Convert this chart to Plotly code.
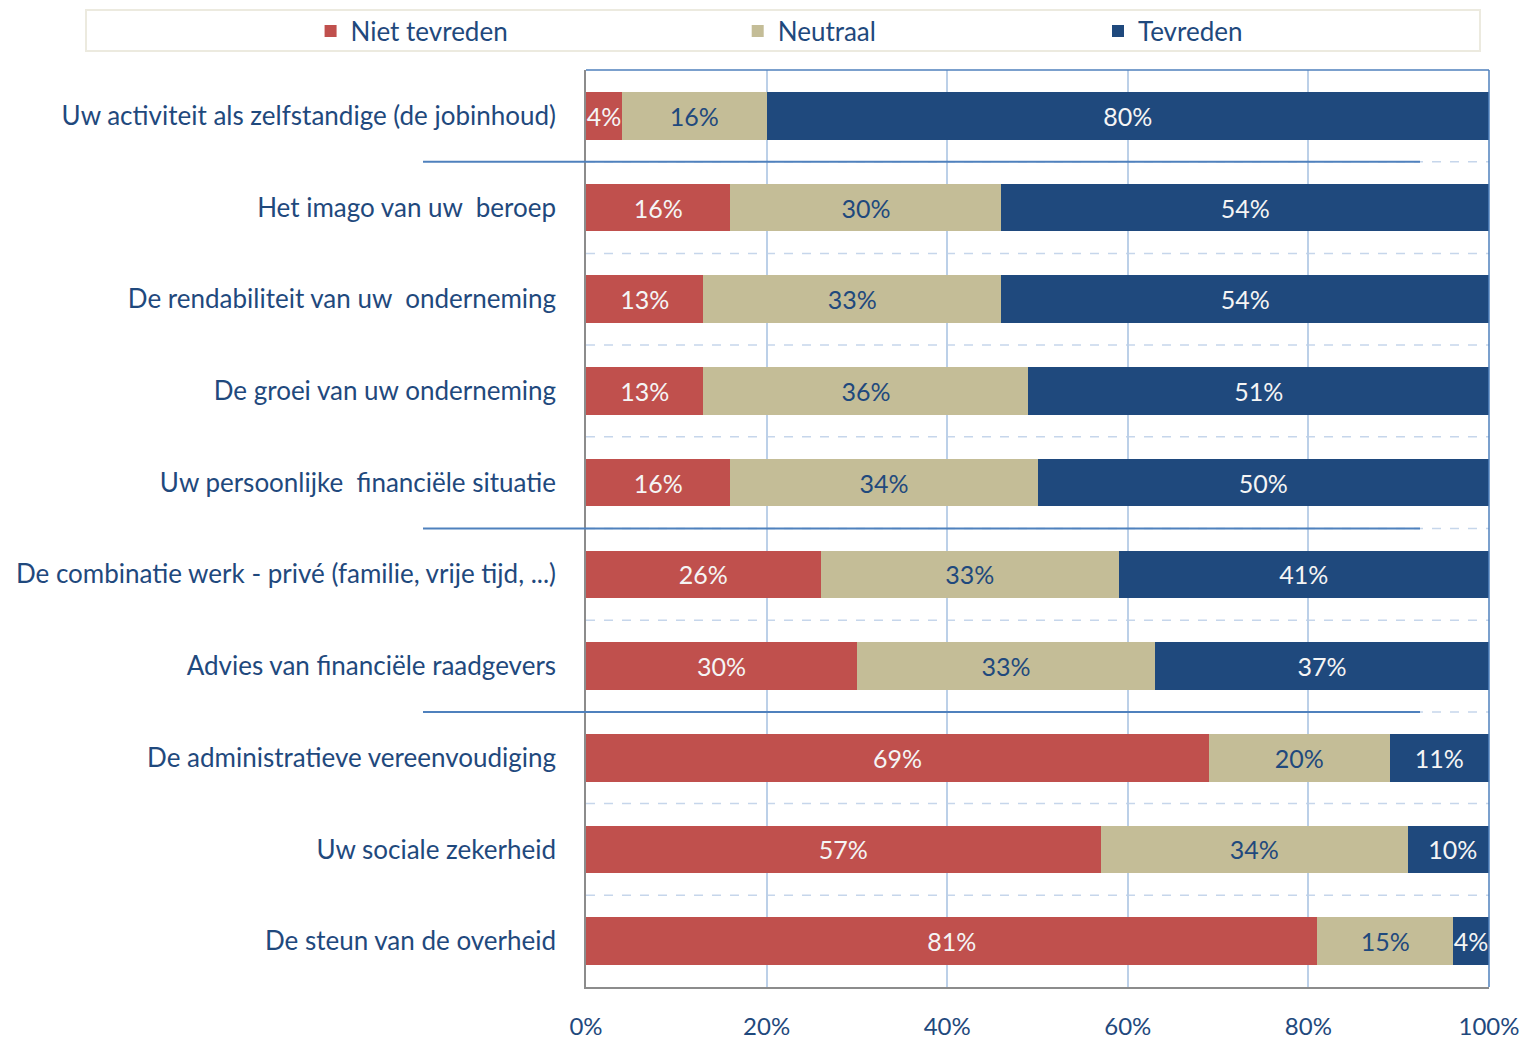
import plotly.graph_objects as go

categories = [
    "Uw activiteit als zelfstandige (de jobinhoud)",
    "Het imago van uw  beroep",
    "De rendabiliteit van uw  onderneming",
    "De groei van uw onderneming",
    "Uw persoonlijke  financiële situatie",
    "De combinatie werk - privé (familie, vrije tijd, ...)",
    "Advies van financiële raadgevers",
    "De administratieve vereenvoudiging",
    "Uw sociale zekerheid",
    "De steun van de overheid",
]
niet_tevreden = [4, 16, 13, 13, 16, 26, 30, 69, 57, 81]
neutraal = [16, 30, 33, 36, 34, 33, 33, 20, 34, 15]
tevreden = [80, 54, 54, 51, 50, 41, 37, 11, 10, 4]
series_names = ["Niet tevreden", "Neutraal", "Tevreden"]
x_ticks = [0, 20, 40, 60, 80, 100]
x_tick_labels = ["0%", "20%", "40%", "60%", "80%", "100%"]
separator_after = [0, 4, 6]  # index of row after which a solid separator is drawn

FONT = "Lato"
FS = 25
FS_LABEL = 26
DARK = "#1F497D"
colors = ["#C0504D", "#C4BD97", "#1F497D"]
text_colors = ["#F5F5F5", DARK, "#F5F5F5"]
values = [niet_tevreden, neutraal, tevreden]
legend_ids = ["legend", "legend2", "legend3"]

fig = go.Figure()
for name, vals, col, tcol, lid in zip(series_names, values, colors, text_colors, legend_ids):
    fig.add_trace(go.Bar(
        name=name, y=categories, x=vals, orientation="h",
        marker=dict(color=col, line=dict(width=0)),
        text=[f"{v}%" for v in vals], textposition="inside",
        insidetextanchor="middle", textangle=0, constraintext="none",
        textfont=dict(family=FONT, size=FS, color=tcol),
        hoverinfo="skip", legend=lid, showlegend=True,
    ))

shapes = []
for i in range(len(categories) - 1):
    shapes.append(dict(type="line", xref="paper", yref="y", x0=0, x1=1,
                       y0=i + 0.5, y1=i + 0.5, layer="below",
                       line=dict(color="#C6D6EB", width=1.5, dash="dash")))
for i in separator_after:
    shapes.append(dict(type="line", xref="paper", yref="y", x0=-0.1805, x1=0.9236,
                       y0=i + 0.5, y1=i + 0.5, layer="above",
                       line=dict(color="#4F81BD", width=2)))
shapes.append(dict(type="line", xref="paper", yref="paper", x0=0, x1=1, y0=1, y1=1,
                   line=dict(color="#4F81BD", width=1.5)))
shapes.append(dict(type="line", xref="paper", yref="paper", x0=1, x1=1, y0=0, y1=1,
                   line=dict(color="#4F81BD", width=1.5)))
shapes.append(dict(type="rect", xref="paper", yref="paper", x0=-0.5537, x1=0.990,
                   y0=1.0207, y1=1.0654, line=dict(color="#ECEADF", width=2),
                   fillcolor="rgba(0,0,0,0)"))

leg_common = dict(orientation="h", yanchor="middle", y=1.0425, xanchor="left",
                  font=dict(family=FONT, size=FS_LABEL, color=DARK),
                  bgcolor="rgba(0,0,0,0)", borderwidth=0, itemclick=False,
                  tracegroupgap=0, visible=True)

fig.update_layout(
    width=1525, height=1043,
    margin=dict(l=586, r=36, t=70, b=56, autoexpand=False),
    barmode="stack", bargap=0.48,
    plot_bgcolor="white", paper_bgcolor="white",
    font=dict(family=FONT, size=FS, color=DARK),
    showlegend=True,
    shapes=shapes,
    legend=dict(x=-0.305, **leg_common),
    legend2=dict(x=0.168, **leg_common),
    legend3=dict(x=0.567, **leg_common),
    xaxis=dict(range=[0, 100], tickvals=x_ticks, ticktext=x_tick_labels,
               showgrid=True, gridcolor="#BCD0E8", gridwidth=1.5,
               showline=True, linecolor="#8C8C8C", linewidth=1.5,
               zeroline=False, ticks="", ticklabelstandoff=17,
               tickfont=dict(family=FONT, size=24, color=DARK), fixedrange=True),
    yaxis=dict(categoryorder="array", categoryarray=categories,
               autorange=False, range=[9.5, -0.5],
               showgrid=False, showline=True, linecolor="#8C8C8C", linewidth=1.5,
               ticks="", ticklabelstandoff=23,
               tickfont=dict(family=FONT, size=FS_LABEL, color=DARK), fixedrange=True),
)

fig.write_html(
    "out.html",
    config={"displayModeBar": False, "staticPlot": False},
    post_script="document.body.style.margin='0';document.body.style.overflow='hidden';",
)
